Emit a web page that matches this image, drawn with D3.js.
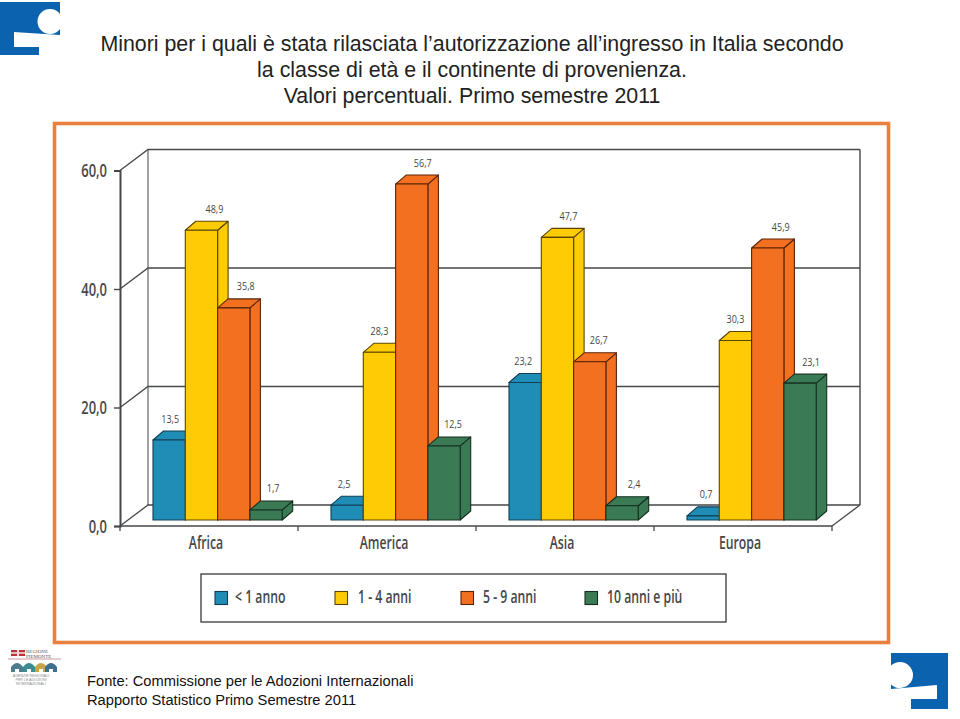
<!DOCTYPE html>
<html><head><meta charset="utf-8">
<script src="https://cdn.jsdelivr.net/npm/d3@7"></script>
<style>html,body{margin:0;background:#fff}svg{display:block}</style></head>
<body><svg id="c" width="960" height="719"></svg>
<script>
const categories = ["Africa","America","Asia","Europa"];
const seriesNames = ["< 1 anno","1 - 4 anni","5 - 9 anni","10 anni e più"];
const under1 = [13.5,2.5,23.2,0.7];
const age1to4 = [48.9,28.3,47.7,30.3];
const age5to9 = [35.8,56.7,26.7,45.9];
const age10plus = [1.7,12.5,2.4,23.1];
const seriesValues = [under1,age1to4,age5to9,age10plus];
const colors = ["#1F8DB5","#FFCB05","#F37021","#3A7A55"];
const edgeColors = ["#123F55","#5a4500","#5a2508","#16301f"];
const yTicks = [0,20,40,60];
const titleLines = ["Minori per i quali è stata rilasciata l’autorizzazione all’ingresso in Italia secondo","la classe di età e il continente di provenienza.","Valori percentuali. Primo semestre 2011"];
const sourceLines = ["Fonte: Commissione per le Adozioni Internazionali","Rapporto Statistico Primo Semestre 2011"];
// label nudges (labels are not centred on their bars)
const labelNudge = [[1,13,12,7],[-3,0,11,9],[-2,11,9,12],[3,0,13,11]];

const svg = d3.select("#c");
const SANS = "'Liberation Sans',Arial,sans-serif";
const CONDENSED = "'Open Sans',sans-serif";
const INK = "#45474a";
// condensed text: Open Sans squeezed horizontally
function squeezed(sel,px,py,size,sx,anchor,weight){
  return sel.attr("transform",`translate(${px},${py}) scale(${sx},1)`)
    .attr("x",0).attr("y",0).attr("dy",null).attr("text-anchor",anchor)
    .attr("font-family",CONDENSED).attr("font-size",size).attr("font-weight",weight).attr("fill",INK);
}

// title
svg.append("g").selectAll("text").data(titleLines).join("text")
  .attr("x",472).attr("y",(d,i)=>51+i*26).attr("text-anchor","middle")
  .attr("font-family",SANS).attr("font-size",18.2*742/632).attr("fill","#222").text(d=>d);

// orange frame
svg.append("rect").attr("x",54.5).attr("y",123.5).attr("width",834).attr("height",519)
  .attr("fill","#fff").attr("stroke","#E8803F").attr("stroke-width",3.6);

// scales
const x = d3.scaleBand().domain(categories).range([120,832]);
const y = d3.scaleLinear().domain([0,60]).range([526,170.5]);
const depthX = 28, depthY = -21;       // floor depth
const barInset = 33, barW = 32.3;
const inner = d3.scaleBand().domain(d3.range(4)).range([0,barW*4]);
const barOffY = -6;                    // bars stand slightly in from the front edge
const bdx = 10.5, bdy = -9;            // bar depth

const g = svg.append("g").attr("fill","none");
const back = v => y(v)+depthY;
g.append("line").attr("x1",120+depthX).attr("x2",120+depthX).attr("y1",back(60)).attr("y2",back(0)).attr("stroke","#77797b").attr("stroke-width",1.4);
g.append("line").attr("x1",832+depthX).attr("x2",832+depthX).attr("y1",back(60)).attr("y2",back(0)).attr("stroke","#45474a").attr("stroke-width",1.4);
g.selectAll(".grid").data(yTicks).join("path").attr("class","grid")
  .attr("d",v=>`M120,${y(v)}L${120+depthX},${back(v)}H${832+depthX}`)
  .attr("stroke","#45474a").attr("stroke-width",1.3);
g.append("path").attr("d",`M832,${y(0)}L${832+depthX},${back(0)}`).attr("stroke","#45474a").attr("stroke-width",1.3);

// front axes
const fmt = v => d3.format(".1f")(v).replace(".",",");
const yAxis = d3.axisLeft(y).tickValues(yTicks).tickSize(6).tickFormat(fmt);
const ya = svg.append("g").attr("transform","translate(120,0)").call(yAxis);
ya.select(".domain").attr("stroke","#45474a").attr("stroke-width",2);
ya.selectAll("line").attr("stroke","#45474a").attr("stroke-width",1.4);
ya.selectAll("text").each(function(){ squeezed(d3.select(this),-13,6,18,0.72,"end",600); });

const xa = svg.append("g").attr("transform",`translate(0,${y(0)})`);
xa.append("line").attr("x1",120).attr("x2",832).attr("stroke","#45474a").attr("stroke-width",1.6);
xa.selectAll(".t").data([...categories.map(c=>x(c)),832]).join("line").attr("class","t")
  .attr("x1",d=>d).attr("x2",d=>d).attr("y1",0).attr("y2",5).attr("stroke","#45474a").attr("stroke-width",1.3);
xa.selectAll("text").data(categories).join("text").text(d=>d)
  .each(function(c){ squeezed(d3.select(this),x(c)+x.bandwidth()/2-3,23,17.5,0.7,"middle",600); });

// bars
const vy = v => y(v)+barOffY;
const bars = svg.append("g");
categories.forEach((c,ci)=>{
  seriesValues.forEach((vals,si)=>{
    const v = vals[ci], x0 = x(c)+barInset+inner(si), x1 = x0+barW, top = vy(v), bot = vy(0);
    const b = bars.append("g").attr("stroke",edgeColors[si]).attr("stroke-width",1.1).attr("stroke-linejoin","round");
    b.append("path").attr("d",`M${x1},${top}L${x1+bdx},${top+bdy}V${bot+bdy}L${x1},${bot}Z`).attr("fill",colors[si]);
    b.append("path").attr("d",`M${x0},${top}L${x0+bdx},${top+bdy}H${x1+bdx}L${x1},${top}Z`).attr("fill",colors[si]);
    b.append("rect").attr("x",x0).attr("y",top).attr("width",barW).attr("height",bot-top).attr("fill",colors[si]);
  });
});
// value labels
const labels = svg.append("g");
categories.forEach((c,ci)=>{
  seriesValues.forEach((vals,si)=>{
    const v = vals[ci];
    squeezed(labels.append("text").text(fmt(v)),
      x(c)+barInset+inner(si)+barW/2+labelNudge[ci][si], vy(v)-17.5, 11, 0.82, "middle", 400);
  });
});

// legend
const lg = svg.append("g");
lg.append("rect").attr("x",201).attr("y",574).attr("width",525).attr("height",48).attr("fill","#fff").attr("stroke","#45474a").attr("stroke-width",1.4);
const swatchX = [215,335,461,585], labelX = [235,358,483,607];
seriesNames.forEach((n,i)=>{
  lg.append("rect").attr("x",swatchX[i]).attr("y",591.5).attr("width",12.5).attr("height",13).attr("fill",colors[i]).attr("stroke",edgeColors[i]).attr("stroke-width",1.1);
  squeezed(lg.append("text").text(n),labelX[i],603,18,0.68,"start",600);
});

// source
svg.append("g").selectAll("text").data(sourceLines).join("text")
  .attr("x",87).attr("y",(d,i)=>686+i*19).attr("font-family",SANS).attr("font-size",14.7).attr("fill","#111").text(d=>d);

// logos
const BLUE = "#0B62AE";
svg.append("path").attr("fill",BLUE).attr("d","M0,2H60V14A12.5,12.5 0 1 0 60,29V35L14,32V47H39V55H0Z");
svg.append("path").attr("fill",BLUE).attr("d","M891,653H948V709H911V699H937V685L891,689V684.4A13,13 0 1 0 891,665.6Z");

// regional emblem
const em = svg.append("g");
em.append("rect").attr("x",11).attr("y",650).attr("width",14).attr("height",6).attr("fill","#c0313a");
em.append("rect").attr("x",11).attr("y",652.2).attr("width",14).attr("height",1.6).attr("fill","#f3dcdc");
em.append("rect").attr("x",17).attr("y",650).attr("width",2).attr("height",6).attr("fill","#f3dcdc");
em.append("text").attr("x",26).attr("y",653).attr("font-family","'Liberation Serif',serif").attr("font-size",5).attr("fill","#555").text("REGIONE");
em.append("text").attr("x",26).attr("y",657.5).attr("font-family","'Liberation Serif',serif").attr("font-size",5).attr("fill","#555").text("PIEMONTE");
em.append("line").attr("x1",8).attr("x2",61).attr("y1",659).attr("y2",659).attr("stroke","#c79aa0").attr("stroke-width",1);
[[11,"#4d7c8c"],[23,"#3d8b93"],[35,"#c9a24a"],[45,"#3d6f8f"]].forEach(([xp,col])=>{
  em.append("path").attr("fill",col).attr("d",`M${xp},672V667Q${xp+6},659 ${xp+12},667V672H${xp+8}V669H${xp+4}V672Z`);
});
["AGENZIE REGIONALI","PER LE ADOZIONI","INTERNAZIONALI"].forEach((t,i)=>{
  em.append("text").attr("x",31).attr("y",677+i*4).attr("text-anchor","middle").attr("font-family",SANS).attr("font-size",3.6).attr("fill","#888").text(t);
});
</script></body></html>
